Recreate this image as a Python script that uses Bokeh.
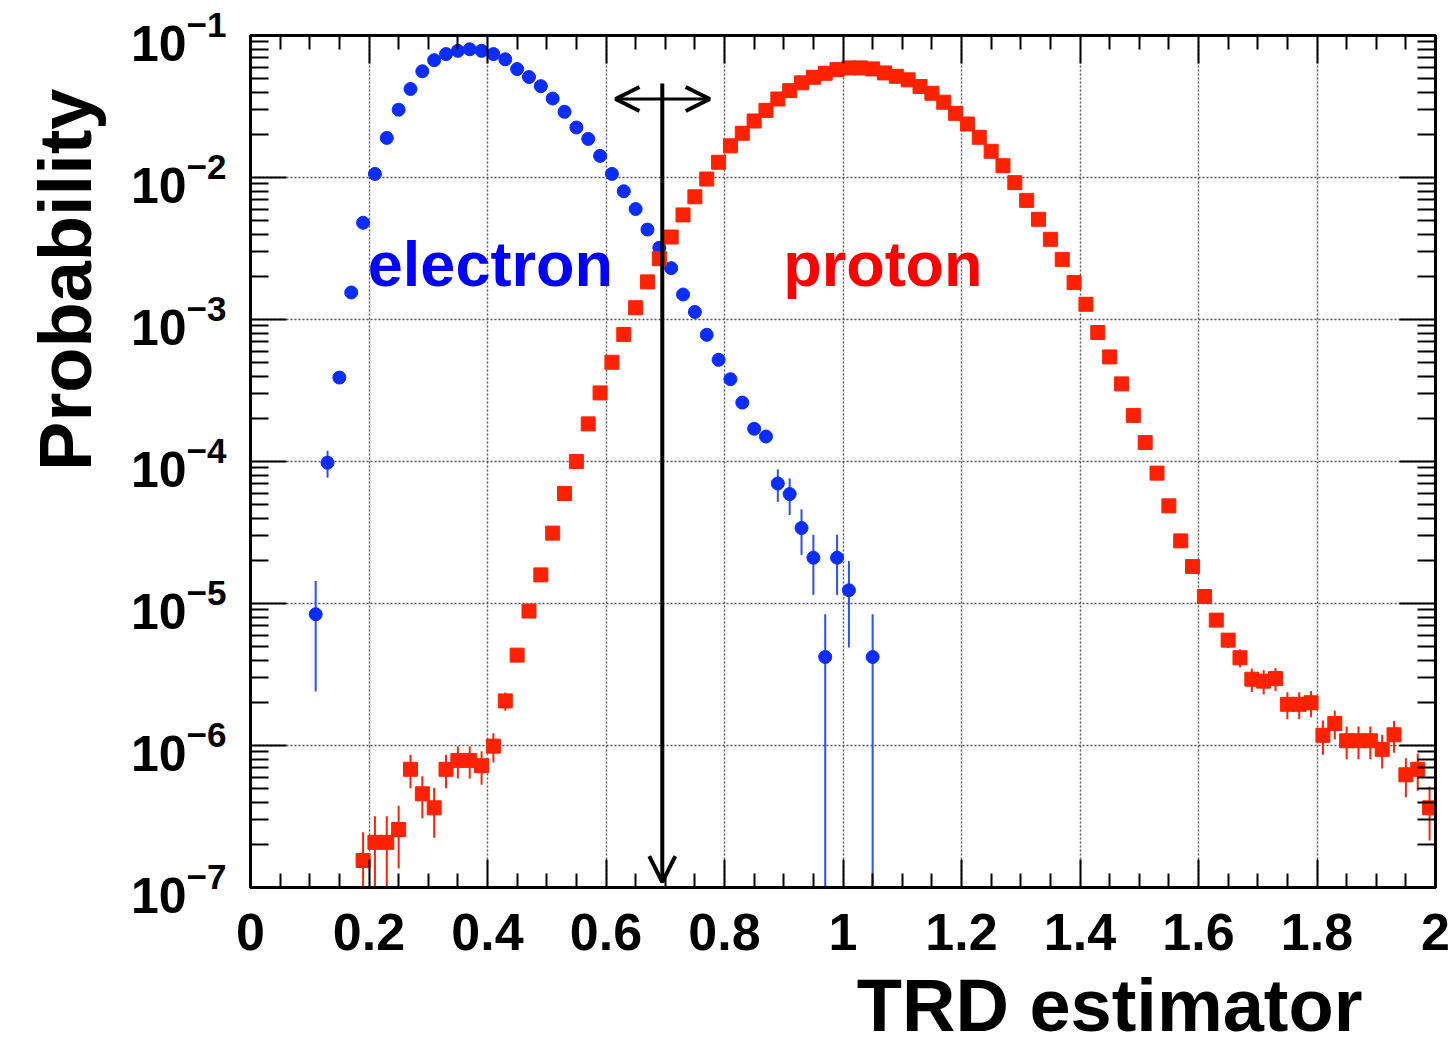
import numpy as np
from bokeh.plotting import figure
from bokeh.models import (LinearAxis, FixedTicker, Label, Arrow, OpenHead, Title,
                          ColumnDataSource, Range1d, CustomJSTickFormatter)
from bokeh.embed import file_html
from bokeh.resources import INLINE

FONT = "Liberation Sans"

# ---------------- data ----------------
electron_x = [0.11, 0.13, 0.15, 0.17, 0.19, 0.21, 0.23, 0.25, 0.27, 0.29,
              0.31, 0.33, 0.35, 0.37, 0.39, 0.41, 0.43, 0.45, 0.47, 0.49,
              0.51, 0.53, 0.55, 0.57, 0.59, 0.61, 0.63, 0.65, 0.67, 0.69,
              0.71, 0.73, 0.75, 0.77, 0.79, 0.81, 0.83, 0.85, 0.87, 0.89,
              0.91, 0.93, 0.95, 0.97, 0.99, 1.01, 1.05]
electron_y = [8.4e-6, 9.8e-5, 3.9e-4, 1.55e-3, 4.8e-3, 1.06e-2, 1.9e-2, 3.0e-2, 4.2e-2, 5.6e-2,
              6.7e-2, 7.4e-2, 7.8e-2, 8.0e-2, 7.8e-2, 7.4e-2, 6.8e-2, 5.8e-2, 5.1e-2, 4.4e-2,
              3.6e-2, 2.9e-2, 2.25e-2, 1.87e-2, 1.42e-2, 1.06e-2, 8.0e-3, 6.0e-3, 4.3e-3, 3.2e-3,
              2.3e-3, 1.5e-3, 1.13e-3, 7.8e-4, 5.2e-4, 3.8e-4, 2.6e-4, 1.7e-4, 1.5e-4, 7.0e-5,
              5.9e-5, 3.4e-5, 2.1e-5, 4.2e-6, 2.1e-5, 1.24e-5, 4.2e-6]
electron_err = [6e-6, 2.1e-5, 1.5e-5, 4e-5, 8e-5, 1.5e-4, 2.2e-4, 2.8e-4, 3.3e-4, 3.8e-4,
                4.1e-4, 4.3e-4, 4.4e-4, 4.5e-4, 4.4e-4, 4.3e-4, 4.1e-4, 3.8e-4, 3.6e-4, 3.3e-4,
                3.0e-4, 2.7e-4, 2.4e-4, 2.2e-4, 1.9e-4, 1.6e-4, 1.4e-4, 1.2e-4, 1.0e-4, 8.5e-5,
                7e-5, 5.5e-5, 4.5e-5, 3.7e-5, 3e-5, 2.5e-5, 2.1e-5, 1.6e-5, 1.5e-5, 1.8e-5,
                1.7e-5, 1.2e-5, 9.5e-6, 4.2e-6, 9.5e-6, 7.5e-6, 4.2e-6]

proton_x = [0.19, 0.21, 0.23, 0.25, 0.27, 0.29, 0.31, 0.33, 0.35, 0.37,
            0.39, 0.41, 0.43, 0.45, 0.47, 0.49, 0.51, 0.53, 0.55, 0.57,
            0.59, 0.61, 0.63, 0.65, 0.67, 0.69, 0.71, 0.73, 0.75, 0.77,
            0.79, 0.81, 0.83, 0.85, 0.87, 0.89, 0.91, 0.93, 0.95, 0.97,
            0.99, 1.01, 1.03, 1.05, 1.07, 1.09, 1.11, 1.13, 1.15, 1.17,
            1.19, 1.21, 1.23, 1.25, 1.27, 1.29, 1.31, 1.33, 1.35, 1.37,
            1.39, 1.41, 1.43, 1.45, 1.47, 1.49, 1.51, 1.53, 1.55, 1.57,
            1.59, 1.61, 1.63, 1.65, 1.67, 1.69, 1.71, 1.73, 1.75, 1.77,
            1.79, 1.81, 1.83, 1.85, 1.87, 1.89, 1.91, 1.93, 1.95, 1.97,
            1.99]
proton_y = [1.55e-7, 2.08e-7, 2.08e-7, 2.56e-7, 6.8e-7, 4.57e-7, 3.64e-7, 6.8e-7, 7.85e-7, 7.85e-7,
            7.2e-7, 9.9e-7, 2.06e-6, 4.33e-6, 8.85e-6, 1.59e-5, 3.13e-5, 5.95e-5, 1.0e-4, 1.84e-4,
            3.04e-4, 5.0e-4, 7.85e-4, 1.21e-3, 1.84e-3, 2.68e-3, 3.81e-3, 5.45e-3, 7.31e-3, 9.75e-3,
            1.28e-2, 1.67e-2, 2.05e-2, 2.5e-2, 2.97e-2, 3.57e-2, 4.09e-2, 4.64e-2, 5.08e-2, 5.42e-2,
            5.75e-2, 5.91e-2, 5.91e-2, 5.82e-2, 5.45e-2, 5.16e-2, 4.87e-2, 4.37e-2, 3.92e-2, 3.39e-2,
            2.83e-2, 2.38e-2, 1.92e-2, 1.53e-2, 1.21e-2, 9.2e-3, 6.9e-3, 5.08e-3, 3.67e-3, 2.65e-3,
            1.82e-3, 1.28e-3, 8.1e-4, 5.45e-4, 3.52e-4, 2.11e-4, 1.36e-4, 8.28e-5, 4.87e-5, 2.76e-5,
            1.82e-5, 1.12e-5, 7.64e-6, 5.52e-6, 4.15e-6, 2.93e-6, 2.84e-6, 2.96e-6, 1.95e-6, 1.95e-6,
            2.0e-6, 1.18e-6, 1.43e-6, 1.08e-6, 1.08e-6, 1.08e-6, 9.4e-7, 1.19e-6, 6.22e-7, 6.8e-7,
            3.64e-7]
proton_err = [9e-8, 1.1e-7, 1.1e-7, 1.2e-7, 1.8e-7, 1.5e-7, 1.4e-7, 1.8e-7, 2e-7, 2e-7,
              1.9e-7, 2.3e-7, 3e-7, 4.5e-7, 6e-7, 8e-7, 1.1e-6, 1.5e-6, 2e-6, 2.7e-6,
              3.5e-6, 4.5e-6, 5.6e-6, 7e-6, 8.6e-6, 1e-5, 1.2e-5, 1.5e-5, 1.7e-5, 2e-5,
              2.3e-5, 2.6e-5, 2.9e-5, 3.2e-5, 3.5e-5, 3.8e-5, 4e-5, 4.3e-5, 4.5e-5, 4.6e-5,
              4.8e-5, 4.9e-5, 4.9e-5, 4.8e-5, 4.7e-5, 4.6e-5, 4.4e-5, 4.2e-5, 4e-5, 3.7e-5,
              3.4e-5, 3.1e-5, 2.8e-5, 2.5e-5, 2.2e-5, 1.9e-5, 1.7e-5, 1.4e-5, 1.2e-5, 1e-5,
              8.5e-6, 7e-6, 5.6e-6, 4.6e-6, 3.7e-6, 2.9e-6, 2.3e-6, 1.8e-6, 1.6e-6, 1.3e-6,
              1e-6, 8e-7, 7e-7, 6.5e-7, 6e-7, 5.5e-7, 5.5e-7, 5.5e-7, 4.2e-7, 4.2e-7,
              4.2e-7, 3.2e-7, 3.3e-7, 2.8e-7, 2.8e-7, 2.8e-7, 2.5e-7, 3.0e-7, 1.9e-7, 2.0e-7,
              1.5e-7]

x_ticks = [0.0, 0.2, 0.4, 0.6, 0.8, 1.0, 1.2, 1.4, 1.6, 1.8, 2.0]
x_tick_labels = ["0", "0.2", "0.4", "0.6", "0.8", "1", "1.2", "1.4", "1.6", "1.8", "2"]
x_minor_ticks = [0.05, 0.1, 0.15, 0.25, 0.3, 0.35, 0.45, 0.5, 0.55, 0.65, 0.7, 0.75,
                 0.85, 0.9, 0.95, 1.05, 1.1, 1.15, 1.25, 1.3, 1.35, 1.45, 1.5, 1.55,
                 1.65, 1.7, 1.75, 1.85, 1.9, 1.95]
y_ticks = [1e-7, 1e-6, 1e-5, 1e-4, 1e-3, 1e-2, 1e-1]
y_minor_ticks = [k * d for d in y_ticks[:-1] for k in range(2, 10)]

x_title = "TRD estimator"
y_title = "Probability"

# cut marker (vertical arrow) and the selection double-arrow
cut_x = 0.695
cut_top = 0.046
cut_bottom = 1.09e-7
range_arrow_x = (0.616, 0.775)
range_arrow_y = 0.0357

assert len(electron_x) == len(electron_y) == len(electron_err)
assert len(proton_x) == len(proton_y) == len(proton_err)

FLOOR = 1e-9
e_lo = np.maximum(np.array(electron_y) - np.array(electron_err), FLOOR)
e_hi = np.array(electron_y) + np.array(electron_err)
p_lo = np.maximum(np.array(proton_y) - np.array(proton_err), FLOOR)
p_hi = np.array(proton_y) + np.array(proton_err)

esrc = ColumnDataSource(dict(x=electron_x, y=electron_y, lo=e_lo, hi=e_hi))
psrc = ColumnDataSource(dict(x=proton_x, y=proton_y, lo=p_lo, hi=p_hi))

# ---------------- figure ----------------
p = figure(width=1455, height=1058, x_range=Range1d(0, 2), y_range=Range1d(1e-7, 1e-1),
           y_axis_type="log", output_backend="svg", toolbar_location=None,
           min_border_left=248, min_border_right=20, min_border_top=35, min_border_bottom=171,
           background_fill_color="white", border_fill_color="white")
p.outline_line_color = "black"
p.outline_line_width = 3

xt = FixedTicker(ticks=x_ticks, minor_ticks=x_minor_ticks)
yt = FixedTicker(ticks=y_ticks, minor_ticks=y_minor_ticks)
blank = CustomJSTickFormatter(code="return '';")

def style_common(ax, major_len, minor_len):
    ax.axis_line_width = 3
    ax.axis_line_color = "black"
    ax.major_tick_in = major_len
    ax.major_tick_out = 0
    ax.minor_tick_in = minor_len
    ax.minor_tick_out = 0
    ax.major_tick_line_width = 2
    ax.minor_tick_line_width = 2
    ax.major_tick_line_color = "black"
    ax.minor_tick_line_color = "black"

def style_x(ax, labels):
    ax.ticker = xt
    style_common(ax, 28, 14)
    if labels:
        ax.major_label_overrides = {t: l for t, l in zip(x_ticks, x_tick_labels)}
        ax.major_label_text_font = FONT
        ax.major_label_text_font_style = "bold"
        ax.major_label_text_font_size = "52px"
        ax.major_label_text_color = "black"
        ax.major_label_standoff = 26
    else:
        ax.formatter = blank
        ax.major_label_text_font_size = "8px"
        ax.major_label_standoff = 0

def style_y(ax, labels):
    ax.ticker = yt
    style_common(ax, 36, 18)
    if labels:
        ax.major_label_text_font = FONT
        ax.major_label_text_font_style = "bold"
        ax.major_label_text_font_size = "50px"
        ax.major_label_text_color = "black"
        ax.major_label_standoff = 24
    else:
        ax.formatter = blank
        ax.major_label_text_font_size = "8px"
        ax.major_label_standoff = 0

style_x(p.xaxis[0], True)
style_y(p.yaxis[0], True)
top_axis = LinearAxis()
style_x(top_axis, False)
p.add_layout(top_axis, "above")
right_axis = LinearAxis()
style_y(right_axis, False)
p.add_layout(right_axis, "right")

for g in (p.xgrid[0], p.ygrid[0]):
    g.grid_line_color = "#555555"
    g.grid_line_width = 1.4
    g.grid_line_dash = "2 2"
p.xgrid[0].ticker = xt
p.ygrid[0].ticker = yt

# axis titles as side-panel titles
p.add_layout(Title(text=x_title, align="right", offset=73, standoff=19,
                   vertical_align="bottom",
                   text_font=FONT, text_font_style="bold", text_font_size="74px",
                   text_color="black"), "below")
p.add_layout(Title(text=y_title, align="right", offset=53, standoff=42,
                   vertical_align="bottom",
                   text_font=FONT, text_font_style="bold", text_font_size="74px",
                   text_color="black"), "left")

# ---------------- data glyphs ----------------
p.segment(x0="x", y0="lo", x1="x", y1="hi", source=esrc, line_color="#2a4dff", line_width=2)
p.scatter(x="x", y="y", source=esrc, marker="circle", size=13,
          fill_color="#0a2dff", line_color="#0a2dff")
p.segment(x0="x", y0="lo", x1="x", y1="hi", source=psrc, line_color="#ff2200", line_width=2)
p.scatter(x="x", y="y", source=psrc, marker="square", size=14,
          fill_color="#ff2200", line_color="#ff2200")

# ---------------- annotations ----------------
p.add_layout(Arrow(end=OpenHead(size=26, line_width=4, line_color="black"),
                   x_start=cut_x, y_start=cut_top, x_end=cut_x, y_end=cut_bottom,
                   line_width=4, line_color="black"))
p.add_layout(Arrow(start=OpenHead(size=24, line_width=4, line_color="black"),
                   end=OpenHead(size=24, line_width=4, line_color="black"),
                   x_start=range_arrow_x[0], y_start=range_arrow_y,
                   x_end=range_arrow_x[1], y_end=range_arrow_y,
                   line_width=3, line_color="black"))

p.add_layout(Label(x=0.198, y=2.45e-3, text="electron", text_font=FONT, text_font_style="bold",
                   text_font_size="63px", text_color="#0000ff", text_baseline="alphabetic"))
p.add_layout(Label(x=0.899, y=2.45e-3, text="proton", text_font=FONT, text_font_style="bold",
                   text_font_size="63px", text_color="#ff0000", text_baseline="alphabetic"))

open("out.html", "w").write(file_html(p, INLINE))
